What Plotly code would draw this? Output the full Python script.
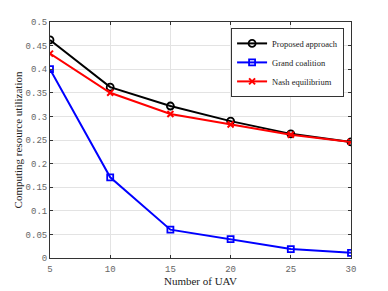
import plotly.graph_objects as go

uav = [5, 10, 15, 20, 25, 30]
proposed = [0.462, 0.362, 0.322, 0.290, 0.263, 0.246]
grand = [0.400, 0.171, 0.060, 0.040, 0.019, 0.011]
nash = [0.433, 0.350, 0.305, 0.283, 0.261, 0.246]

yticks = [0, 0.05, 0.1, 0.15, 0.2, 0.25, 0.3, 0.35, 0.4, 0.45, 0.5]
ytick_text = ["0", "0.05", "0.1", "0.15", "0.2", "0.25", "0.3", "0.35", "0.4", "0.45", "0.5"]
xticks = [5, 10, 15, 20, 25, 30]

fig = go.Figure()
fig.add_trace(go.Scatter(x=uav, y=proposed, name="Proposed approach", mode="lines+markers",
                         line=dict(color="black", width=2),
                         marker=dict(symbol="circle-open", size=7, color="black", line=dict(width=1.8))))
fig.add_trace(go.Scatter(x=uav, y=grand, name="Grand coalition", mode="lines+markers",
                         line=dict(color="#0000ff", width=2),
                         marker=dict(symbol="square-open", size=6, color="#0000ff", line=dict(width=1.8))))
fig.add_trace(go.Scatter(x=uav, y=nash, name="Nash equilibrium", mode="lines+markers",
                         line=dict(color="#ff0000", width=2),
                         marker=dict(symbol="x-thin-open", size=6, color="#ff0000", line=dict(width=2))))

axis_common = dict(showline=True, linecolor="#333333", linewidth=1, mirror="ticks",
                   ticks="inside", ticklen=3, tickcolor="#333333", automargin=False,
                   showgrid=True, gridcolor="#e3e3e3", gridwidth=1, zeroline=False,
                   tickfont=dict(family="Liberation Mono", size=9, color="#666666"))

fig.update_xaxes(range=[5, 30], tickvals=xticks, ticklabelstandoff=2,
                 title=dict(text="Number of UAV", font=dict(family="Liberation Serif", size=11, color="#222222"), standoff=0),
                 **axis_common)
fig.update_yaxes(range=[0, 0.5], tickvals=yticks, ticktext=ytick_text, ticklabelstandoff=0,
                 title=dict(text="Computing resource utilization", font=dict(family="Liberation Serif", size=11, color="#222222"), standoff=0),
                 **axis_common)

fig.update_layout(
    width=380, height=283,
    margin=dict(l=42, r=37, t=14, b=33, autoexpand=False),
    paper_bgcolor="white", plot_bgcolor="white",
    showlegend=True,
    legend=dict(x=0.977, y=0.975, xanchor="right", yanchor="top",
                bgcolor="white", bordercolor="#333333", borderwidth=1,
                font=dict(family="Liberation Serif", size=8.5, color="#222222"),
                tracegroupgap=0, itemwidth=30),
)

fig.write_html("out.html")
